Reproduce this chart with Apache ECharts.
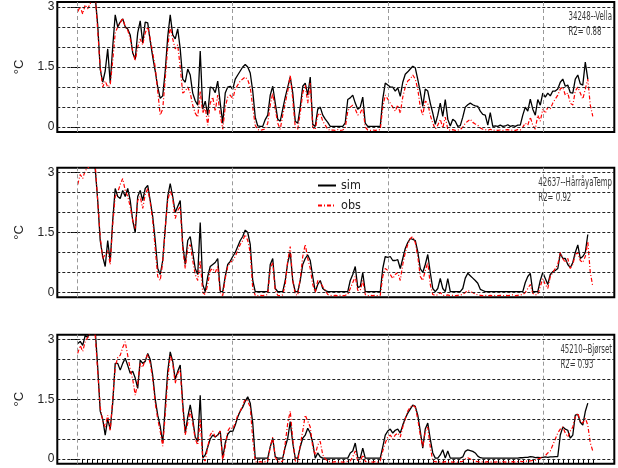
<!DOCTYPE html>
<html>
<head>
<meta charset="utf-8">
<script src="https://cdn.jsdelivr.net/npm/echarts@6/dist/echarts.min.js"></script>
<style>
  html, body { margin: 0; padding: 0; background: #fff; }
  #chart { width: 618px; height: 468px; }
</style>
</head>
<body>
<div id="chart"></div>
<script>
// Daily-mean water temperature, simulated vs observed, three stations.
// Series are sampled every half day, starting at day 0.
const STEP_DAYS = 0.5;
const MONTH_STARTS = [0, 31, 62, 93];
const GRID_LEVELS = [0, 0.5, 1, 1.5, 2, 2.5, 3];
const Y_TICKS = [0, 1.5, 3];
const LAST_DAY = 103;

const STATIONS = ['34248--Vella', '42637--HårråyaTemp', '45210--Bjørset'];
const R2_VALUES = ['0.88', '0.92', '0.93'];

const SIM_VELLA = [
  3.4,3.4,3.35,3.3,3.3,3.35,3.3,3.25,2.55,1.45,
  1.12,1.4,1.95,1.1,2.0,2.8,2.5,2.62,2.7,2.5,
  2.45,2.3,1.85,1.7,2.35,2.65,2.1,2.62,2.6,2.15,
  1.75,1.4,1.0,0.72,0.78,1.4,2.25,2.8,2.3,2.2,
  2.45,1.95,1.2,1.12,1.45,1.3,0.85,0.66,0.55,1.9,
  0.45,0.65,0.3,1.0,0.98,0.86,1.15,0.6,0.1,0.85,
  1.0,1.02,0.94,1.2,1.3,1.4,1.5,1.56,1.5,1.35,
  0.9,0.25,0.03,0.02,0.02,0.19,0.3,0.8,1.02,0.6,
  0.2,0.15,0.45,0.75,1.0,1.25,0.86,0.15,0.1,0.5,
  1.02,1.1,0.8,1.25,0.07,0.02,0.45,0.5,0.3,0.2,
  0.12,0.02,0.02,0.02,0.02,0.02,0.02,0.11,0.69,0.73,
  0.8,0.6,0.45,0.5,0.75,0.1,0.02,0.02,0.02,0.02,
  0.02,0.02,0.7,1.1,1.05,1.0,1.0,0.9,0.98,0.77,
  1.12,1.32,1.38,1.45,1.52,1.48,1.19,0.88,0.52,0.95,
  0.9,0.6,0.35,0.07,0.3,0.6,0.27,0.69,0.2,0.03,
  0.2,0.15,0.02,0.04,0.25,0.5,0.56,0.6,0.56,0.53,
  0.52,0.4,0.32,0.3,0.05,0.36,0.02,0.03,0.02,0.05,
  0.02,0.03,0.06,0.02,0.04,0.02,0.05,0.05,0.3,0.5,
  0.4,0.7,0.45,0.3,0.69,0.55,0.85,0.75,0.85,0.78,
  0.9,0.9,0.95,1.12,1.2,1.02,1.05,0.86,0.85,1.2,
  1.3,1.08,1.05,1.62,1.2,null,null
];
const OBS_VELLA = [
  2.88,3.0,2.82,3.05,2.95,3.08,3.2,3.3,2.4,1.5,
  1.0,1.15,1.0,1.05,1.65,2.35,2.5,2.6,2.72,2.5,
  2.42,2.2,1.9,1.65,2.0,2.2,2.05,2.35,2.5,2.2,
  1.85,1.5,0.9,0.3,0.45,1.2,2.0,2.5,2.2,1.95,
  2.05,1.5,0.85,0.9,1.0,0.85,0.55,0.35,0.25,0.9,
  0.35,0.5,0.05,0.6,0.75,0.4,0.8,0.3,-0.05,0.5,
  0.75,0.8,0.7,0.95,1.05,1.15,1.2,1.25,1.18,1.0,
  0.5,0.05,-0.06,-0.08,-0.06,-0.05,0.1,0.55,0.85,0.45,
  0.1,-0.05,0.3,0.6,0.9,1.3,0.7,0.0,-0.05,0.35,
  0.85,1.05,0.6,1.1,0.0,-0.06,0.3,0.35,0.15,0.05,
  -0.05,-0.08,-0.07,-0.08,-0.06,-0.08,-0.07,-0.02,0.4,0.5,
  0.55,0.45,0.3,0.35,0.5,0.0,-0.07,-0.08,-0.07,-0.08,
  -0.07,-0.06,0.5,0.8,0.7,0.6,0.5,0.4,0.55,0.35,
  0.75,1.0,1.15,1.2,1.3,1.2,0.95,0.5,0.3,0.65,
  0.6,0.3,0.1,-0.05,0.05,0.2,-0.02,0.25,-0.05,-0.08,
  -0.06,-0.08,-0.07,-0.06,0.0,0.1,0.15,0.2,0.12,0.08,
  0.05,-0.02,-0.05,-0.06,-0.08,-0.05,-0.08,-0.07,-0.08,-0.07,
  -0.08,-0.07,-0.06,-0.08,-0.07,-0.08,-0.06,-0.07,0.0,0.1,
  0.05,0.25,0.05,-0.05,0.3,0.15,0.45,0.35,0.5,0.45,
  0.6,0.7,0.8,0.95,1.0,0.8,0.85,0.6,0.55,0.9,
  1.0,0.85,0.7,0.95,1.2,0.55,0.27
];

const SIM_HARRAAYA = [
  3.4,3.4,3.35,3.35,3.3,3.3,3.2,3.1,2.3,1.3,
  0.9,0.65,1.3,0.77,1.8,2.6,2.4,2.35,2.55,2.4,
  2.6,2.3,1.8,1.5,2.4,2.55,2.3,2.6,2.68,2.3,
  1.9,1.3,0.6,0.45,0.8,1.6,2.4,2.72,2.4,2.0,
  2.15,2.3,1.2,0.7,1.3,1.4,1.0,0.6,0.45,1.75,
  0.2,0.02,0.4,0.65,0.7,0.75,0.85,0.03,0.02,0.4,
  0.7,0.78,0.9,1.0,1.15,1.3,1.4,1.56,1.5,1.2,
  0.3,0.02,0.02,0.02,0.02,0.02,0.02,0.7,0.85,0.1,
  0.02,0.02,0.02,0.3,0.75,1.0,0.3,0.02,0.02,0.3,
  0.7,0.85,0.94,0.8,0.4,0.02,0.2,0.3,0.1,0.05,
  0.02,0.02,0.02,0.02,0.02,0.02,0.02,0.02,0.02,0.3,
  0.45,0.65,0.12,0.15,0.5,0.02,0.02,0.02,0.02,0.02,
  0.02,0.02,0.6,0.9,0.88,0.9,0.8,0.8,0.82,0.6,
  0.85,1.1,1.25,1.35,1.33,1.3,1.02,0.6,0.5,0.7,
  0.95,0.5,0.1,0.02,0.1,0.35,0.1,0.02,0.35,0.02,
  0.02,0.02,0.02,0.02,0.1,0.36,0.48,0.42,0.36,0.3,
  0.23,0.08,0.05,0.02,0.02,0.02,0.02,0.02,0.02,0.02,
  0.02,0.02,0.02,0.02,0.02,0.02,0.02,0.02,0.02,0.25,
  0.4,0.48,0.02,0.02,0.02,0.3,0.5,0.35,0.2,0.45,
  0.52,0.55,0.6,0.98,0.85,0.85,0.7,0.62,0.75,1.0,
  1.19,0.85,0.9,1.0,1.45,null,null
];
const OBS_HARRAAYA = [
  2.7,2.95,2.85,3.05,3.1,3.2,3.3,3.2,2.3,1.4,
  0.85,0.95,1.05,0.7,1.7,2.4,2.5,2.7,2.85,2.55,
  2.4,2.15,1.8,1.6,2.3,2.4,2.1,2.45,2.6,2.25,
  1.8,1.1,0.4,0.3,0.75,1.6,2.3,2.55,2.35,1.85,
  2.05,2.15,1.1,0.6,1.1,1.2,0.8,0.45,0.3,0.8,
  0.0,-0.05,0.2,0.55,0.6,0.5,0.65,0.0,-0.08,0.35,
  0.65,0.75,0.8,0.9,1.05,1.2,1.3,1.45,1.3,1.0,
  0.1,-0.07,-0.08,-0.07,-0.08,-0.07,-0.05,0.6,0.75,0.05,
  -0.07,-0.08,-0.06,0.2,0.8,1.15,0.3,-0.05,-0.07,0.35,
  0.9,1.2,0.85,0.6,0.2,0.0,0.3,0.25,0.15,0.05,
  -0.05,-0.07,-0.08,-0.07,-0.08,-0.07,-0.08,-0.07,-0.05,0.1,
  0.25,0.4,0.05,0.05,0.3,-0.05,-0.08,-0.07,-0.08,-0.07,
  -0.08,-0.07,0.4,0.6,0.55,0.45,0.35,0.45,0.5,0.3,
  0.7,1.0,1.2,1.35,1.4,1.25,0.9,0.4,0.3,0.55,
  0.75,0.2,-0.05,-0.07,-0.06,0.0,-0.07,-0.08,-0.06,-0.08,
  -0.07,-0.08,-0.07,-0.06,-0.05,0.0,0.05,0.02,0.0,-0.04,
  -0.06,-0.07,-0.08,-0.07,-0.08,-0.07,-0.08,-0.07,-0.08,-0.07,
  -0.08,-0.07,-0.08,-0.07,-0.06,-0.08,-0.07,-0.06,-0.05,0.0,
  0.1,0.2,-0.02,-0.06,-0.05,0.15,0.35,0.2,0.1,0.4,
  0.5,0.6,0.7,1.0,0.85,0.75,0.85,0.6,0.7,0.95,
  1.0,0.8,0.75,0.9,1.27,0.5,0.15
];

const SIM_BJORSET = [
  2.9,2.95,2.85,3.1,3.05,3.3,3.3,3.25,2.3,1.2,
  1.0,0.6,1.0,0.75,1.4,2.4,2.4,2.23,2.4,2.53,
  2.35,2.15,2.2,2.03,1.77,2.48,2.4,2.45,2.65,2.5,
  2.1,1.5,1.1,0.82,0.4,1.3,2.2,2.69,2.45,2.0,
  2.2,2.36,1.4,0.65,1.05,1.36,1.0,0.55,0.44,1.6,
  0.02,0.1,0.3,0.5,0.6,0.55,0.6,0.7,0.02,0.4,
  0.62,0.7,0.69,0.85,1.05,1.2,1.3,1.45,1.56,1.4,
  0.9,0.02,0.02,0.02,0.02,0.02,0.02,0.3,0.52,0.05,
  0.02,0.02,0.02,0.3,0.52,0.94,0.4,0.02,0.02,0.3,
  0.52,0.6,0.77,0.65,0.4,0.02,0.15,0.05,0.02,0.02,
  0.02,0.02,0.02,0.02,0.02,0.02,0.02,0.02,0.02,0.15,
  0.2,0.4,0.03,0.02,0.27,0.02,0.02,0.02,0.02,0.02,
  0.02,0.02,0.3,0.6,0.7,0.75,0.65,0.72,0.75,0.65,
  0.85,1.02,1.15,1.25,1.35,1.32,1.1,0.7,0.27,0.75,
  0.9,0.5,0.15,0.02,0.02,0.1,0.23,0.02,0.2,0.02,
  0.02,0.02,0.02,0.02,0.05,0.19,0.23,0.21,0.19,0.15,
  0.07,0.03,0.02,0.02,0.02,0.02,0.02,0.02,0.02,0.02,
  0.02,0.02,0.02,0.02,0.02,0.02,0.02,0.03,0.03,0.04,
  0.04,0.06,0.05,0.03,0.04,0.03,0.04,0.05,0.04,0.05,
  0.05,0.06,0.06,0.6,0.8,0.75,0.72,0.52,0.6,1.1,
  1.12,0.92,0.85,1.19,1.4,null,null
];
const OBS_BJORSET = [
  2.65,2.85,2.7,2.95,3.05,3.2,3.25,3.1,2.2,1.3,
  0.95,0.8,1.1,0.7,1.5,2.3,2.55,2.6,2.8,2.94,
  2.6,2.25,2.0,1.6,1.9,2.4,2.3,2.5,2.62,2.4,
  2.0,1.4,1.0,0.7,0.32,1.1,2.0,2.6,2.4,1.9,
  2.15,2.25,1.3,0.6,0.9,1.2,0.9,0.5,0.35,1.0,
  0.0,-0.05,0.3,0.6,0.7,0.55,0.6,0.7,-0.05,0.3,
  0.7,0.8,0.75,0.9,1.1,1.2,1.35,1.5,1.45,1.3,
  0.5,-0.07,-0.08,-0.07,-0.08,-0.07,-0.06,0.3,0.55,0.05,
  -0.07,-0.08,-0.05,0.4,0.9,1.2,0.5,-0.05,-0.07,0.35,
  0.7,1.1,0.95,0.8,0.3,0.1,0.35,0.44,0.1,0.0,
  -0.05,-0.07,-0.08,-0.07,-0.08,-0.07,-0.08,-0.07,-0.06,-0.05,
  0.05,0.2,-0.05,-0.07,0.1,-0.06,-0.08,-0.07,-0.08,-0.07,
  -0.08,-0.05,0.2,0.4,0.55,0.6,0.5,0.6,0.65,0.55,
  0.8,1.0,1.2,1.3,1.35,1.3,1.0,0.6,0.3,0.7,
  0.8,0.3,-0.05,-0.07,-0.08,-0.07,-0.08,-0.07,-0.08,-0.07,
  -0.08,-0.07,-0.08,-0.07,-0.06,0.0,0.03,0.0,-0.04,-0.06,
  -0.07,-0.08,-0.07,-0.08,-0.07,-0.08,-0.07,-0.08,-0.07,-0.08,
  -0.07,-0.08,-0.07,-0.08,-0.07,-0.08,-0.07,-0.06,-0.07,-0.05,
  -0.06,-0.05,-0.04,-0.03,0.0,0.02,0.06,0.08,0.15,0.2,
  0.35,0.5,0.65,0.75,0.8,0.65,0.55,0.7,0.8,1.05,
  1.15,0.95,0.9,1.02,0.85,0.4,0.2
];

const SIM = [SIM_VELLA, SIM_HARRAAYA, SIM_BJORSET];
const OBS = [OBS_VELLA, OBS_HARRAAYA, OBS_BJORSET];

// one tick per day along the bottom axis
const DAY_TICKS = Array.from({ length: LAST_DAY + 1 }, (_, i) => i);

const NARROW = "'Liberation Sans Narrow', 'Arial Narrow', 'DejaVu Sans Condensed', sans-serif";
const PLAIN = "'Liberation Sans', Arial, Helvetica, sans-serif";

// panel frames (pixels)
const PANEL_TOP = [2, 167.7, 334.7];
const PANEL_HEIGHT = [130, 129.6, 129];
const PANEL_LEFT = 57.3;
const PANEL_RIGHT = 3.7;
const Y_MIN = -0.12, Y_MAX = 3.12;
const X_MIN = -4.08, X_MAX = 107.3;

function toPairs(values) {
  return values.map((v, i) => [i * STEP_DAYS, v]);
}

const grids = [], xAxes = [], yAxes = [], series = [], graphics = [];

PANEL_TOP.forEach((top, p) => {
  const isBottom = p === PANEL_TOP.length - 1;
  grids.push({
    left: PANEL_LEFT, right: PANEL_RIGHT, top: top, height: PANEL_HEIGHT[p],
    show: true, borderColor: '#000', borderWidth: 2, backgroundColor: 'transparent'
  });
  xAxes.push({
    type: 'value', gridIndex: p, min: X_MIN, max: X_MAX,
    axisLine: { show: false },
    axisLabel: { show: false },
    splitLine: { show: false },
    axisTick: isBottom
      ? { show: true, customValues: DAY_TICKS, length: 5, inside: false,
          lineStyle: { color: '#000', width: 1 } }
      : { show: false }
  });
  yAxes.push({
    type: 'value', gridIndex: p, min: Y_MIN, max: Y_MAX,
    name: '°C', nameLocation: 'middle', nameGap: 31, nameRotate: 90,
    nameTextStyle: { fontSize: 13, color: '#222', fontFamily: PLAIN },
    axisLine: { show: false },
    splitLine: { show: false },
    axisTick: { show: true, customValues: Y_TICKS, length: 7, lineStyle: { color: '#000', width: 1 } },
    axisLabel: { customValues: Y_TICKS, margin: 3, fontSize: 12, color: '#222', fontFamily: PLAIN }
  });

  // reference lines: dotted levels and month boundaries
  series.push({
    type: 'line', xAxisIndex: p, yAxisIndex: p, data: [], z: 1, silent: true,
    markLine: {
      silent: true, symbol: 'none', animation: false,
      label: { show: false },
      emphasis: { disabled: true },
      data: GRID_LEVELS.map(v => ({ yAxis: v, lineStyle: { color: '#222', type: [3, 2], width: 1 } }))
        .concat(MONTH_STARTS.map(d => ({ xAxis: d, lineStyle: { color: '#9a9a9a', type: [4, 3], width: 1 } })))
    }
  });
  series.push({
    name: 'sim', type: 'line', xAxisIndex: p, yAxisIndex: p,
    data: toPairs(SIM[p]), showSymbol: false, symbol: 'none', z: 3,
    lineStyle: { color: '#000', width: 1.3 }, itemStyle: { color: '#000' },
    clip: true, animation: false
  });
  series.push({
    name: 'obs', type: 'line', xAxisIndex: p, yAxisIndex: p,
    data: toPairs(OBS[p]), showSymbol: false, symbol: 'none', z: 4,
    lineStyle: { color: '#ff0000', width: 1.2, type: [4, 2, 1, 2] }, itemStyle: { color: '#ff0000' },
    clip: true, animation: false
  });
});

// station label and R² in the upper-right corner of each panel,
// set in a condensed face
const LABEL_FONT = "12.5px " + NARROW;
const measure = document.createElement('canvas').getContext('2d');
measure.font = LABEL_FONT;
const nameWidths = STATIONS.map(s => measure.measureText(s).width);
const TARGET_WIDTHS = [42.5, 78, 48.3];
const squeeze = TARGET_WIDTHS.reduce((a, b) => a + b, 0) / nameWidths.reduce((a, b) => a + b, 0);
PANEL_TOP.forEach((top, p) => {
  const x = 612 - nameWidths[p] * squeeze;
  graphics.push({
    type: 'text', x: x, y: top + 15, scaleX: squeeze, silent: true,
    style: { text: STATIONS[p], font: LABEL_FONT, fill: '#3a3a3a', verticalAlign: 'middle', align: 'left' }
  });
  graphics.push({
    type: 'text', x: x, y: top + 30, scaleX: squeeze, silent: true,
    style: { text: 'R2= ' + R2_VALUES[p], font: LABEL_FONT, fill: '#3a3a3a', verticalAlign: 'middle', align: 'left' }
  });
});

const chart = echarts.init(document.getElementById('chart'), null, { renderer: 'canvas' });
chart.setOption({
  animation: false,
  backgroundColor: '#fff',
  grid: grids,
  xAxis: xAxes,
  yAxis: yAxes,
  legend: {
    data: ['sim', 'obs'], orient: 'vertical', left: 317, top: 179,
    itemWidth: 18, itemHeight: 12, itemGap: 7, padding: 0,
    itemStyle: { opacity: 0 },
    textStyle: { fontSize: 12.5, color: '#222', fontFamily: NARROW },
    selectedMode: false
  },
  graphic: graphics,
  series: series
});
</script>
</body>
</html>
